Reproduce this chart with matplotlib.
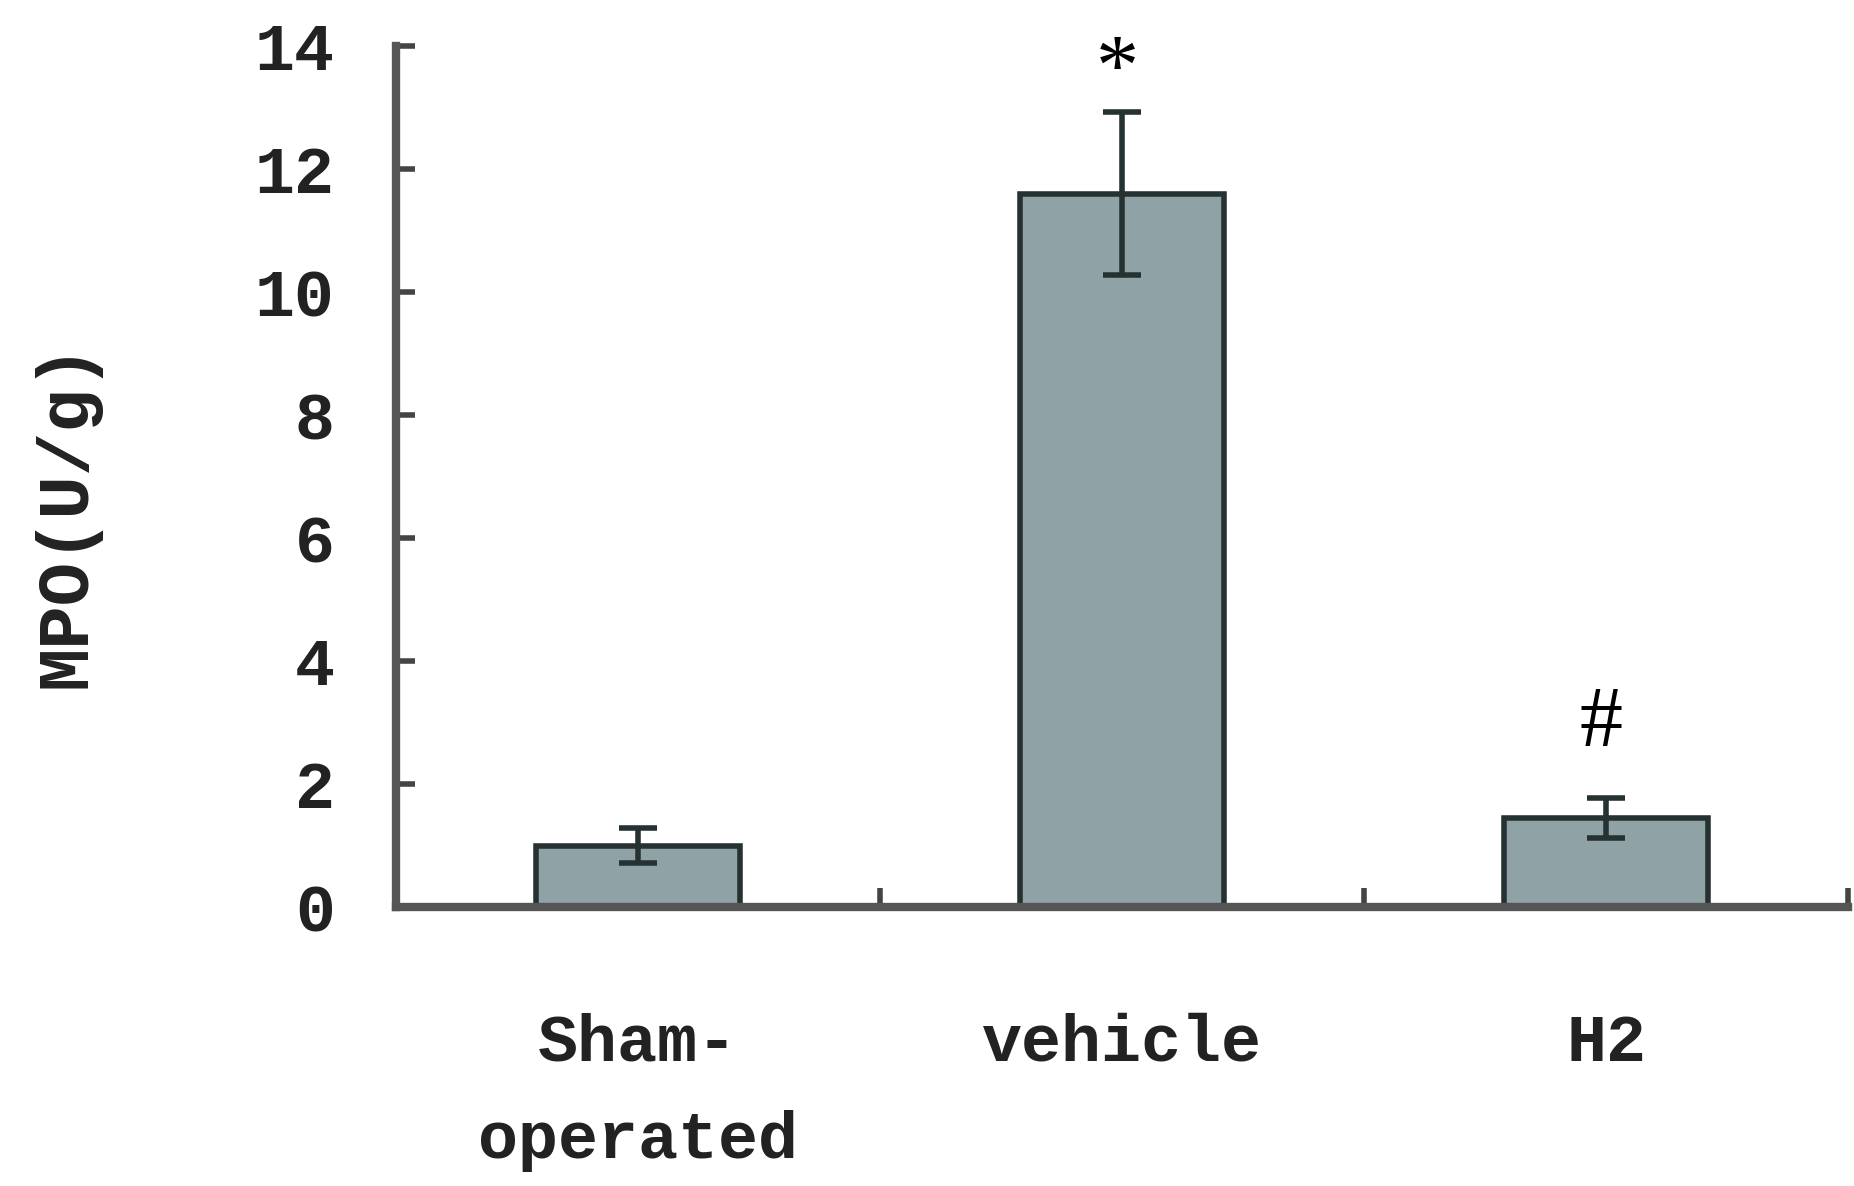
import matplotlib.pyplot as plt
import numpy as np

# MPO activity per group
groups = ["Sham-\noperated", "vehicle", "H2"]
mpo = [1.0, 11.6, 1.45]
mpo_err = [0.28, 1.33, 0.33]
marks = ["", "*", "#"]
mark_y = [None, 13.55, 2.95]

fig = plt.figure(figsize=(18.54, 11.86), dpi=100)
ax = fig.add_axes([0.2136, 0.2352, 0.7832, 0.726])

x = np.arange(len(groups))
ax.bar(x, mpo, width=0.42, color="#8fa3a7", edgecolor="#263232", linewidth=4, zorder=2)
ax.errorbar(x, mpo, yerr=mpo_err, fmt="none", ecolor="#263232", elinewidth=4,
            capsize=14, capthick=4, zorder=3)

for xi, m, my in zip(x, marks, mark_y):
    if m:
        ax.text(xi - 0.01, my, m, ha="center", va="center", fontsize=62,
                family="Liberation Serif", color="black")

ax.set_xlim(-0.5, 2.5)
ax.set_ylim(0, 14)
ax.set_yticks(range(0, 15, 2))
ax.set_xticks(x)
ax.set_xticklabels(groups, fontsize=48, family="Liberation Mono", fontweight="bold",
                   linespacing=1.72)
ax.set_xticks([0.5, 1.5, 2.5], minor=True)

for s in ["top", "right"]:
    ax.spines[s].set_visible(False)
for s in ["left", "bottom"]:
    ax.spines[s].set_linewidth(6)
    ax.spines[s].set_color("#555555")

ax.tick_params(axis="y", direction="in", length=14, width=4, color="#444444",
               pad=44, labelsize=48)
ax.tick_params(axis="x", which="major", length=0, pad=76)
ax.tick_params(axis="x", which="minor", direction="in", length=14, width=4, color="#444444")
for lab in ax.get_yticklabels():
    lab.set_family("Liberation Mono")
    lab.set_fontweight("bold")
    lab.set_color("#222222")
for lab in ax.get_xticklabels():
    lab.set_color("#222222")

fig.text(0.036, 0.566, "MPO(U/g)", rotation=90, ha="center", va="center",
         fontsize=52, family="Liberation Mono", fontweight="bold", color="#222222")

plt.savefig("out.png", dpi=100)
